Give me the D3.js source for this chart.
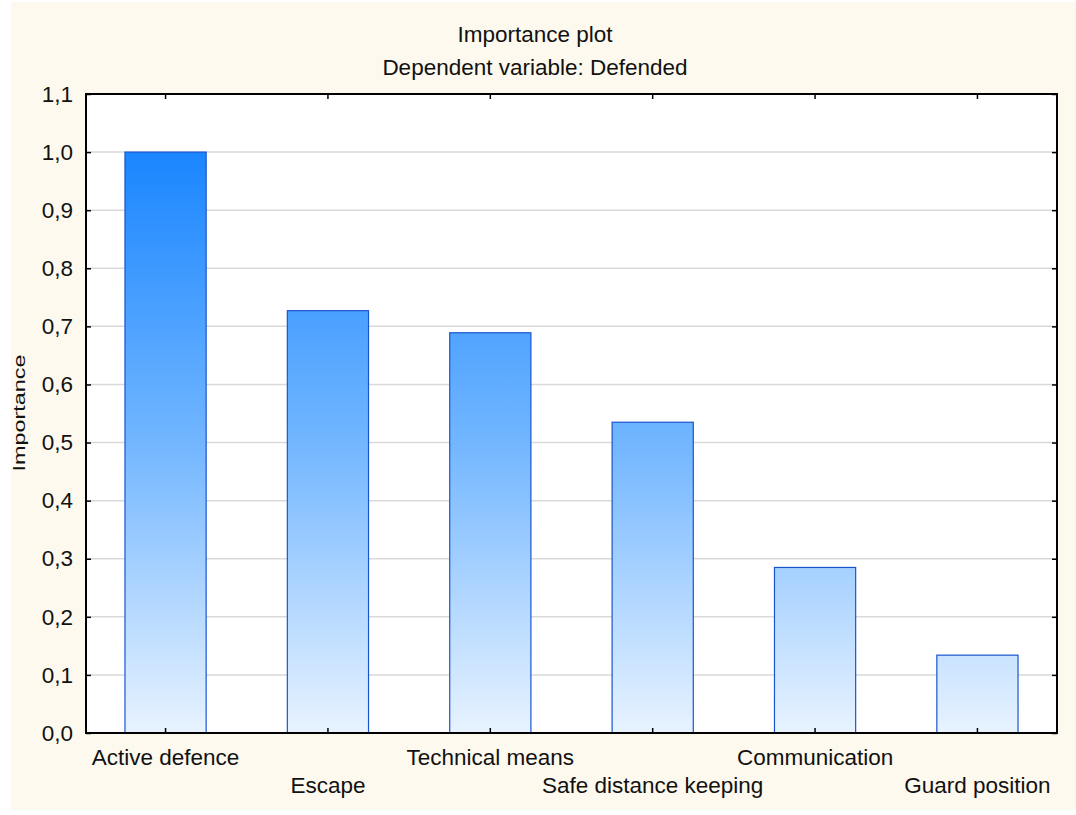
<!DOCTYPE html>
<html>
<head>
<meta charset="utf-8">
<script src="https://cdn.jsdelivr.net/npm/d3@7"></script>
<style>
html,body{margin:0;padding:0;background:#fff;}
svg{display:block;font-family:"Liberation Sans",Arial,sans-serif;}
</style>
</head>
<body>
<svg id="chart" width="1076" height="815"></svg>
<script>
const categories = ["Active defence","Escape","Technical means","Safe distance keeping","Communication","Guard position"];
const importance = [1.0, 0.727, 0.689, 0.535, 0.285, 0.134];
const yTicks = [0,0.1,0.2,0.3,0.4,0.5,0.6,0.7,0.8,0.9,1.0,1.1];
const title = "Importance plot";
const subtitle = "Dependent variable: Defended";
const yTitle = "Importance";

const svg = d3.select("#chart");
const W = 1076, H = 815;
const m = {left:86, right:1057, top:94, bottom:733};
const FS = 22.5;

svg.append("rect").attr("x",11).attr("y",2).attr("width",W-11).attr("height",808).attr("fill","#fdf9ee");

const x = d3.scaleBand().domain(categories).range([m.left,m.right]).paddingInner(0.5).paddingOuter(0.24);
const y = d3.scaleLinear().domain([0,1.1]).range([m.bottom,m.top]);

const defs = svg.append("defs");
const grad = defs.append("linearGradient").attr("id","barGrad")
  .attr("gradientUnits","userSpaceOnUse")
  .attr("x1",0).attr("x2",0).attr("y1",y(1.0)).attr("y2",y(0));
grad.append("stop").attr("offset","0%").attr("stop-color","#1a86ff");
grad.append("stop").attr("offset","50%").attr("stop-color","#72b6ff");
grad.append("stop").attr("offset","100%").attr("stop-color","#e8f3ff");

// plot area
svg.append("rect").attr("x",m.left).attr("y",m.top).attr("width",m.right-m.left).attr("height",m.bottom-m.top).attr("fill","#fff");

// gridlines
svg.append("g").selectAll("line").data(yTicks.filter(d=>d>0 && d<1.1)).join("line")
  .attr("x1",m.left).attr("x2",m.right).attr("y1",d=>y(d)).attr("y2",d=>y(d))
  .attr("stroke","#d9d9d9").attr("stroke-width",1.5);

// bars
svg.append("g").selectAll("rect").data(categories).join("rect")
  .attr("x",d=>x(d)).attr("width",x.bandwidth())
  .attr("y",(d,i)=>y(importance[i])).attr("height",(d,i)=>y(0)-y(importance[i]))
  .attr("fill","url(#barGrad)").attr("stroke","#1a55d0").attr("stroke-width",1.2);

// axes
const fmt = d=>d3.format(".1f")(d).replace(".",",");
const yAxisL = svg.append("g").attr("transform",`translate(${m.left},0)`)
  .call(d3.axisLeft(y).tickValues(yTicks).tickSize(-5).tickPadding(13).tickFormat(fmt));
const yAxisR = svg.append("g").attr("transform",`translate(${m.right},0)`)
  .call(d3.axisRight(y).tickValues(yTicks).tickSize(-5).tickFormat(""));
const xAxisB = svg.append("g").attr("transform",`translate(0,${m.bottom})`)
  .call(d3.axisBottom(x).tickSize(-5).tickFormat(""));
const xAxisT = svg.append("g").attr("transform",`translate(0,${m.top})`)
  .call(d3.axisTop(x).tickSize(-5).tickFormat(""));
[yAxisL,yAxisR,xAxisB,xAxisT].forEach(g=>{
  g.select(".domain").remove();
  g.selectAll(".tick line").attr("stroke","#000").attr("stroke-width",1.5);
  g.selectAll("text").attr("font-size",FS).attr("fill","#111").attr("font-family","Liberation Sans, Arial, sans-serif");
});

// frame
svg.append("rect").attr("x",m.left).attr("y",m.top).attr("width",m.right-m.left).attr("height",m.bottom-m.top)
  .attr("fill","none").attr("stroke","#000").attr("stroke-width",2);

// category labels staggered
svg.append("g").selectAll("text").data(categories).join("text")
  .attr("x",d=>x(d)+x.bandwidth()/2)
  .attr("y",(d,i)=> i%2===0 ? 765 : 793)
  .attr("text-anchor","middle").attr("font-size",FS).attr("fill","#111")
  .text(d=>d);

// titles
svg.append("text").attr("x",535).attr("y",41.5).attr("text-anchor","middle").attr("font-size",FS).attr("fill","#111").text(title);
svg.append("text").attr("x",535).attr("y",74.5).attr("text-anchor","middle").attr("font-size",FS).attr("fill","#111").text(subtitle);
svg.append("text").attr("transform",`translate(25,413) rotate(-90)`)
  .attr("text-anchor","middle").attr("font-size",17).attr("fill","#111")
  .attr("textLength",117).attr("lengthAdjust","spacingAndGlyphs").text(yTitle);
</script>
</body>
</html>
